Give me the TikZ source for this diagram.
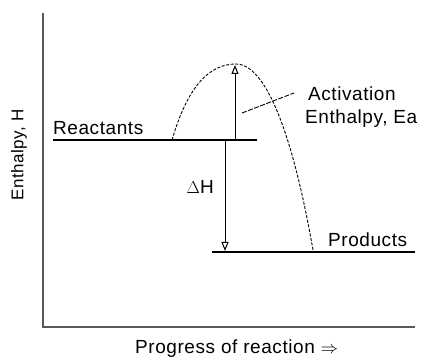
\documentclass[tikz,border=0pt]{standalone}
\usepackage{fontspec}
\setmainfont{Liberation Sans}[LetterSpace=3]
\usetikzlibrary{arrows.meta}
\begin{document}
\begin{tikzpicture}[x=1pt,y=-1pt,
  axis/.style={draw=black!65,line width=1.4pt},
  level/.style={draw=black,line width=1.1pt},
  curve/.style={draw=black,line width=0.9pt,dash pattern=on 3pt off 1.6pt},
  leader/.style={draw=black,line width=0.9pt,dash pattern=on 5pt off 1.5pt},
  harrow/.style={draw=black,line width=1pt,-{Triangle[open,length=9pt,width=7pt]}},
  lbl/.style={font=\fontsize{19}{22}\selectfont,inner sep=0pt}]
\useasboundingbox (0,0) rectangle (424,358);
% axes
\coordinate (ytop) at (43,13);
\coordinate (origin) at (43,327);
\coordinate (xend) at (415,327);
\draw[axis] (ytop) -- (origin) -- (xend);
% levels
\coordinate (r1) at (53,140);
\coordinate (r2) at (257,140);
\coordinate (p1) at (212,252);
\coordinate (p2) at (415,252);
\draw[level] (r1) -- (r2);
\draw[level] (p1) -- (p2);
% curve
\coordinate (cs) at (172,140);
\coordinate (peak) at (236,64);
\coordinate (ce) at (313,250);
\draw[curve] (cs) .. controls (188,85) and (210,64) .. (peak)
                  .. controls (265,64) and (292,130) .. (ce);
% arrows
\coordinate (ea1) at (235,140);
\coordinate (ea2) at (235,65);
\draw[harrow] (ea1) -- (ea2);
\coordinate (dh1) at (225,140);
\coordinate (dh2) at (225,251);
\draw[harrow] (dh1) -- (dh2);
% leader
\coordinate (l1) at (242,113);
\coordinate (l2) at (294,93);
\draw[leader] (l1) -- (l2);
% labels
\node[lbl,anchor=base west] (react) at (53,135) {Reactants};
\node[lbl,anchor=base west] (prod) at (328,247) {Products};
\node[lbl,anchor=base east] (dh) at (214,194) {$\Delta$H};
\node[lbl,anchor=base west] (act1) at (308,101) {Activation};
\node[lbl,anchor=base west] (act2) at (305,124) {Enthalpy, Ea};
\node[lbl,anchor=base west] (xl) at (135,354) {Progress of reaction $\Rightarrow$};
\node[lbl,font=\fontsize{17}{20}\selectfont,rotate=90] (yl) at (19,155) {Enthalpy, H};
\end{tikzpicture}
\end{document}
